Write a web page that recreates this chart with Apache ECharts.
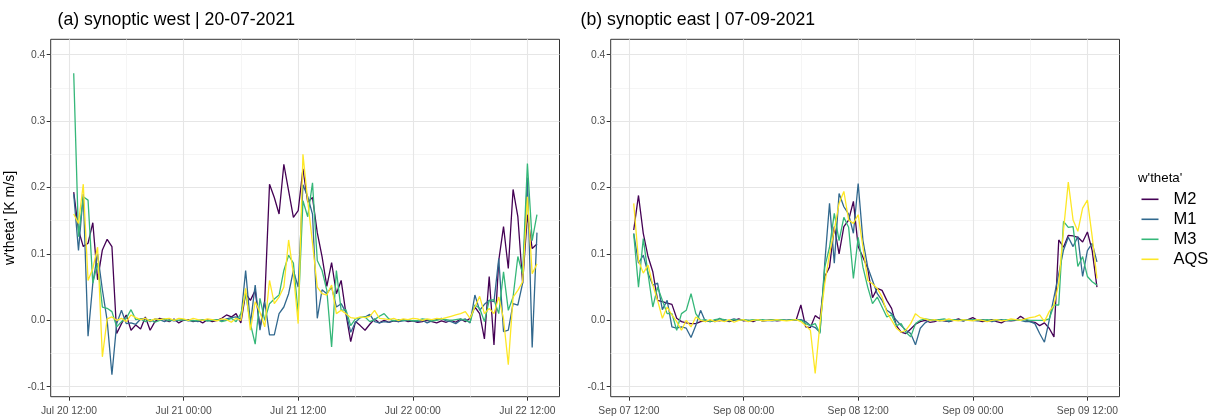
<!DOCTYPE html>
<html>
<head>
<meta charset="utf-8">
<script src="https://cdn.jsdelivr.net/npm/echarts@6/dist/echarts.min.js"></script>
<style>
  html, body { margin: 0; padding: 0; background: #ffffff; }
  #chart { width: 1218px; height: 418px; }
</style>
</head>
<body>
<div id="chart"></div>
<script>
// Half-hourly w'theta' fluxes [K m/s], first sample at 12:30 on the first day
const seriesNames = ['M2', 'M1', 'M3', 'AQS'];
const seriesColors = ['#440154', '#31688E', '#35B779', '#FDE725'];

const firstSampleHour = 12.5;   // hours after midnight of the first day
const sampleStepHours = 0.5;

// (a) synoptic west | 20-07-2021
const westM2 = [
  0.193, 0.136, 0.111, 0.116, 0.147, 0.061, 0.106, 0.122, 0.111, -0.020,
  -0.005, 0.008, -0.015, -0.007, -0.013, 0.005, -0.015, -0.002, 0.003, 0.001,
  -0.002, 0.002, -0.004, 0.000, 0.001, -0.002, 0.000, -0.004, 0.001, -0.002,
  0.000, 0.003, 0.008, 0.005, 0.010, -0.004, 0.040, 0.030, 0.045, -0.012,
  0.030, 0.205, 0.185, 0.160, 0.235, 0.195, 0.155, 0.165, 0.228, 0.178,
  0.185, 0.132, 0.096, 0.051, 0.087, 0.040, 0.060, 0.010, -0.032, -0.002,
  -0.008, -0.015, -0.006, 0.002, -0.004, 0.000, -0.003, -0.001, -0.002, 0.001,
  -0.002, -0.001, -0.003, -0.002, 0.000, -0.002, -0.004, -0.001, -0.003, 0.000,
  -0.003, 0.002, -0.002, 0.003, 0.020, 0.010, -0.028, 0.066, -0.037, 0.090,
  0.141, 0.078, 0.197, 0.156, 0.056, 0.159, 0.108, 0.115
];
const westM1 = [
  0.190, 0.105, 0.190, -0.024, 0.056, 0.100, 0.046, 0.000, -0.082, -0.005,
  0.015, -0.005, -0.004, -0.006, 0.002, 0.003, -0.002, 0.002, 0.001, -0.002,
  0.001, -0.001, 0.000, 0.001, -0.001, 0.000, -0.002, 0.001, -0.001, 0.000,
  0.001, -0.001, 0.002, 0.004, 0.005, 0.002, 0.075, -0.005, 0.053, -0.015,
  0.028, -0.022, -0.022, 0.010, 0.020, 0.040, 0.075, 0.050, 0.204, 0.186,
  0.160, 0.003, 0.046, 0.040, 0.050, 0.020, 0.025, 0.012, -0.018, -0.003,
  0.004, 0.005, 0.009, -0.002, -0.004, -0.002, -0.003, 0.000, -0.002, -0.001,
  0.000, -0.001, -0.002, 0.000, -0.004, -0.001, 0.001, 0.003, -0.001, -0.002,
  -0.005, 0.000, 0.002, -0.004, 0.038, 0.015, 0.024, 0.030, 0.028, 0.093,
  -0.017, -0.015, 0.025, 0.023, 0.056, 0.215, -0.041, 0.132
];
const westM3 = [
  0.372, 0.126, 0.186, 0.181, 0.056, 0.086, 0.020, 0.018, 0.013, -0.010,
  -0.002, 0.003, 0.016, 0.001, 0.002, -0.002, 0.001, -0.003, 0.000, 0.002,
  -0.001, 0.001, 0.000, 0.001, 0.000, -0.001, 0.000, 0.001, -0.001, 0.000,
  0.001, -0.002, 0.000, 0.003, -0.002, 0.010, 0.040, -0.005, -0.036, 0.033,
  0.000, 0.025, 0.032, 0.038, 0.075, 0.098, 0.086, 0.010, 0.180, 0.156,
  0.207, 0.090, 0.075, 0.045, -0.040, 0.075, 0.015, 0.016, -0.008, 0.002,
  0.004, 0.005, -0.002, 0.001, 0.006, 0.010, 0.002, -0.001, 0.001, 0.000,
  0.001, -0.001, 0.000, 0.002, 0.001, -0.001, 0.000, 0.002, 0.001, 0.000,
  0.001, 0.002, 0.000, -0.003, 0.023, 0.018, -0.002, 0.030, 0.031, 0.010,
  0.073, 0.015, 0.035, 0.096, 0.070, 0.236, 0.120, 0.159
];
const westAQS = [
  0.160, 0.146, 0.205, 0.060, 0.078, 0.110, -0.055, 0.002, 0.005, 0.000,
  0.003, -0.002, 0.008, 0.004, 0.001, 0.003, -0.001, 0.002, 0.001, 0.002,
  0.003, 0.000, 0.003, 0.002, 0.000, 0.003, 0.001, 0.000, 0.002, 0.001,
  -0.001, 0.002, 0.001, -0.003, 0.003, 0.000, 0.048, -0.015, 0.028, 0.012,
  -0.010, 0.060, 0.025, 0.035, 0.050, 0.121, 0.070, -0.005, 0.250, 0.180,
  0.116, 0.050, 0.040, 0.038, 0.053, 0.010, 0.015, 0.010, 0.004, 0.003,
  0.005, 0.004, 0.006, 0.015, 0.003, 0.002, 0.001, 0.003, 0.000, 0.002,
  0.001, 0.003, 0.002, 0.000, 0.002, 0.001, 0.003, 0.002, 0.004, 0.006,
  0.008, 0.010, 0.013, 0.003, 0.020, 0.036, 0.010, 0.018, 0.010, 0.035,
  0.002, -0.067, 0.035, 0.045, 0.058, 0.186, 0.070, 0.085
];

// (b) synoptic east | 07-09-2021
const eastM2 = [
  0.136, 0.188, 0.131, 0.096, 0.073, 0.030, 0.028, 0.026, 0.024, 0.003,
  -0.002, -0.004, -0.005, -0.005, -0.002, -0.001, -0.002, 0.000, -0.001, 0.001,
  -0.002, 0.000, 0.002, -0.001, 0.000, -0.002, 0.001, -0.001, 0.000, 0.001,
  -0.001, 0.000, 0.000, 0.001, 0.000, 0.023, -0.010, -0.011, 0.007, 0.002,
  0.066, 0.080, 0.141, 0.100, 0.141, 0.151, 0.179, 0.111, 0.095, 0.078,
  0.034, 0.048, 0.045, 0.030, 0.018, -0.008, -0.018, -0.020, -0.013, -0.006,
  -0.002, 0.000, -0.003, -0.002, 0.001, -0.001, -0.002, 0.000, 0.002, -0.001,
  0.001, 0.004, 0.000, -0.002, -0.001, 0.001, -0.002, -0.004, 0.000, -0.001,
  0.000, 0.006, 0.001, -0.002, -0.003, -0.008, -0.004, -0.012, -0.025, 0.121,
  0.110, 0.128, 0.127, 0.125, 0.118, 0.133, 0.105, 0.050
];
const eastM1 = [
  0.131, 0.086, 0.098, 0.071, 0.053, 0.056, 0.016, 0.030, -0.010, -0.012,
  -0.010, -0.012, -0.026, -0.008, 0.015, -0.002, 0.000, -0.002, 0.003, -0.001,
  0.000, 0.002, 0.000, 0.001, -0.001, 0.000, 0.001, -0.001, 0.000, -0.001,
  0.000, 0.001, 0.000, 0.000, 0.000, 0.001, -0.002, -0.008, -0.011, -0.018,
  0.086, 0.176, 0.086, 0.191, 0.171, 0.160, 0.131, 0.206, 0.120, 0.080,
  0.060, 0.040, 0.030, 0.015, 0.010, 0.000, -0.008, -0.015, -0.020, -0.037,
  -0.012, -0.004, 0.000, 0.001, -0.001, 0.000, -0.002, 0.001, 0.000, -0.001,
  0.001, 0.000, -0.001, 0.001, 0.000, -0.002, 0.000, 0.001, -0.001, 0.000,
  0.001, 0.000, -0.002, -0.002, -0.005, -0.020, -0.033, 0.000, 0.035, 0.070,
  0.106, 0.125, 0.111, 0.126, 0.066, 0.105, 0.116, 0.088
];
const eastM3 = [
  0.130, 0.050, 0.123, 0.070, 0.020, 0.050, 0.030, 0.010, 0.010, -0.015,
  0.010, 0.015, 0.040, 0.010, 0.000, 0.001, -0.002, 0.001, 0.002, 0.001,
  -0.001, 0.001, 0.000, 0.001, 0.000, 0.001, 0.000, 0.001, 0.000, 0.001,
  0.000, 0.001, 0.000, 0.001, 0.001, 0.000, -0.005, -0.008, -0.005, -0.020,
  0.080, 0.110, 0.161, 0.120, 0.155, 0.140, 0.063, 0.125, 0.080, 0.050,
  0.025, 0.035, 0.020, 0.005, 0.008, -0.008, -0.005, -0.018, -0.025, -0.005,
  0.000, 0.002, 0.001, 0.000, 0.001, 0.002, 0.000, 0.001, 0.000, 0.001,
  0.000, 0.001, 0.001, 0.000, 0.001, 0.000, 0.001, 0.000, 0.001, 0.000,
  0.001, 0.000, 0.001, 0.000, 0.000, 0.000, 0.000, 0.002, 0.023, 0.023,
  0.149, 0.140, 0.141, 0.081, 0.096, 0.066, 0.058, 0.053
];
const eastAQS = [
  0.176, 0.090, 0.071, 0.083, 0.053, 0.030, 0.003, 0.020, 0.008, -0.002,
  -0.015, 0.000, -0.010, 0.005, 0.000, -0.002, 0.001, -0.002, 0.000, -0.002,
  0.001, -0.003, 0.000, 0.001, -0.002, 0.000, 0.001, -0.001, 0.000, 0.000,
  0.001, 0.000, -0.001, 0.000, 0.001, -0.002, -0.008, -0.015, -0.080, -0.005,
  0.055, 0.100, 0.136, 0.176, 0.194, 0.151, 0.146, 0.159, 0.110, 0.060,
  0.055, 0.048, 0.035, 0.012, 0.000, -0.012, -0.018, -0.015, -0.005, 0.010,
  0.004, 0.002, 0.000, 0.001, -0.001, 0.000, 0.002, 0.000, -0.001, 0.001,
  0.000, -0.001, 0.001, 0.000, -0.002, 0.000, 0.001, -0.001, 0.000, 0.002,
  0.001, 0.000, 0.002, 0.004, 0.005, 0.008, -0.002, 0.013, 0.023, 0.056,
  0.136, 0.208, 0.151, 0.134, 0.169, 0.181, 0.126, 0.063
];

// Axis breaks (hours after midnight of the first day)
const xMajorHours = [12, 24, 36, 48, 60];
const xMinorHours = [18, 30, 42, 54];
const westTickLabels = ['Jul 20 12:00', 'Jul 21 00:00', 'Jul 21 12:00', 'Jul 22 00:00', 'Jul 22 12:00'];
const eastTickLabels = ['Sep 07 12:00', 'Sep 08 00:00', 'Sep 08 12:00', 'Sep 09 00:00', 'Sep 09 12:00'];
const yMajorTicks = [-0.1, 0.0, 0.1, 0.2, 0.3, 0.4];
const yMinorTicks = [-0.05, 0.05, 0.15, 0.25, 0.35];

const panelTitles = ['(a) synoptic west | 20-07-2021', '(b) synoptic east | 07-09-2021'];
const yAxisTitle = "w'theta' [K m/s]";
const legendTitle = "w'theta'";

const FONT = "'Liberation Sans', Arial, Helvetica, sans-serif";
const X_MIN = 10.09, X_MAX = 63.36;
const Y_MIN = -0.1151, Y_MAX = 0.4232;

function toPairs(values) {
  return values.map((v, i) => [firstSampleHour + i * sampleStepHours, v]);
}

const panels = [
  { left: 50.7, labels: westTickLabels, data: [westM2, westM1, westM3, westAQS] },
  { left: 610.7, labels: eastTickLabels, data: [eastM2, eastM1, eastM3, eastAQS] }
];
const PANEL_TOP = 39.3, PANEL_W = 508.8, PANEL_H = 357.4;

const grids = [], xAxes = [], yAxes = [], series = [];

panels.forEach((p, k) => {
  grids.push({
    left: p.left, top: PANEL_TOP, width: PANEL_W, height: PANEL_H,
    show: true, borderColor: '#333333', borderWidth: 1, backgroundColor: '#ffffff',
    containLabel: false
  });
  // major x axis: ticks, labels, major grid
  xAxes.push({
    type: 'value', gridIndex: k, min: X_MIN, max: X_MAX, position: 'bottom',
    axisLine: { show: false, onZero: false },
    axisTick: { show: true, length: 4, lineStyle: { color: '#333333', width: 1 }, customValues: xMajorHours },
    axisLabel: {
      customValues: xMajorHours, margin: 8.4, color: '#4d4d4d',
      fontFamily: FONT, fontSize: 10.3, lineHeight: 12,
      formatter: (v) => {
        const idx = xMajorHours.findIndex(h => Math.abs(h - v) < 1e-6);
        return idx >= 0 ? p.labels[idx] : '';
      }
    },
    splitLine: { show: true, lineStyle: { color: '#e6e6e6', width: 1.1 } }
  });
  // major y axis
  yAxes.push({
    type: 'value', gridIndex: k, min: Y_MIN, max: Y_MAX, position: 'left',
    axisLine: { show: false, onZero: false },
    axisTick: { show: true, length: 4, lineStyle: { color: '#333333', width: 1 }, customValues: yMajorTicks },
    axisLabel: {
      customValues: yMajorTicks, margin: 5.4, color: '#4d4d4d',
      fontFamily: FONT, fontSize: 10.3,
      formatter: (v) => v.toFixed(1)
    },
    splitLine: { show: true, lineStyle: { color: '#e6e6e6', width: 1.1 } }
  });
});

// minor grid axes (no ticks or labels)
panels.forEach((p, k) => {
  xAxes.push({
    type: 'value', gridIndex: k, min: X_MIN, max: X_MAX, position: 'top',
    axisLine: { show: false, onZero: false },
    axisTick: { show: false, customValues: xMinorHours },
    axisLabel: { show: false, customValues: xMinorHours },
    splitLine: { show: true, lineStyle: { color: '#f2f2f2', width: 0.8 } }
  });
  yAxes.push({
    type: 'value', gridIndex: k, min: Y_MIN, max: Y_MAX, position: 'right',
    axisLine: { show: false, onZero: false },
    axisTick: { show: false, customValues: yMinorTicks },
    axisLabel: { show: false, customValues: yMinorTicks },
    splitLine: { show: true, lineStyle: { color: '#f2f2f2', width: 0.8 } }
  });
});

panels.forEach((p, k) => {
  p.data.forEach((vals, s) => {
    series.push({
      name: seriesNames[s], type: 'line', xAxisIndex: k, yAxisIndex: k,
      data: toPairs(vals), showSymbol: false, symbol: 'none',
      lineStyle: { color: seriesColors[s], width: 1.3 },
      itemStyle: { color: seriesColors[s] },
      z: 3 + s, animation: false, clip: true
    });
  });
});

const chart = echarts.init(document.getElementById('chart'), null, { renderer: 'canvas' });
chart.setOption({
  backgroundColor: '#ffffff',
  animation: false,
  textStyle: { fontFamily: FONT },
  title: [
    { text: panelTitles[0], left: 57.5, top: 9.5,
      textStyle: { fontFamily: FONT, fontSize: 17.7, fontWeight: 'normal', color: '#000000', lineHeight: 22 }, padding: 0 },
    { text: panelTitles[1], left: 580.5, top: 9.5,
      textStyle: { fontFamily: FONT, fontSize: 17.7, fontWeight: 'normal', color: '#000000', lineHeight: 22 }, padding: 0 },
    { text: legendTitle, left: 1138, top: 170,
      textStyle: { fontFamily: FONT, fontSize: 13.3, fontWeight: 'normal', color: '#000000', lineHeight: 16 }, padding: 0 }
  ],
  legend: {
    data: seriesNames, orient: 'vertical', left: 1141.5, top: 190.8,
    icon: 'rect', itemWidth: 17, itemHeight: 1.6, itemGap: 3, padding: 0,
    textStyle: { fontFamily: FONT, fontSize: 16.5, lineHeight: 17, color: '#000000', padding: [0, 0, 0, 10] },
    selectedMode: false
  },
  graphic: [
    { type: 'text', x: 10.5, y: 218, rotation: Math.PI / 2,
      style: { text: yAxisTitle, fontFamily: FONT, fontSize: 14, fill: '#000000',
               textAlign: 'center', textVerticalAlign: 'middle' } }
  ],
  grid: grids,
  xAxis: xAxes,
  yAxis: yAxes,
  series: series
});
</script>
</body>
</html>
